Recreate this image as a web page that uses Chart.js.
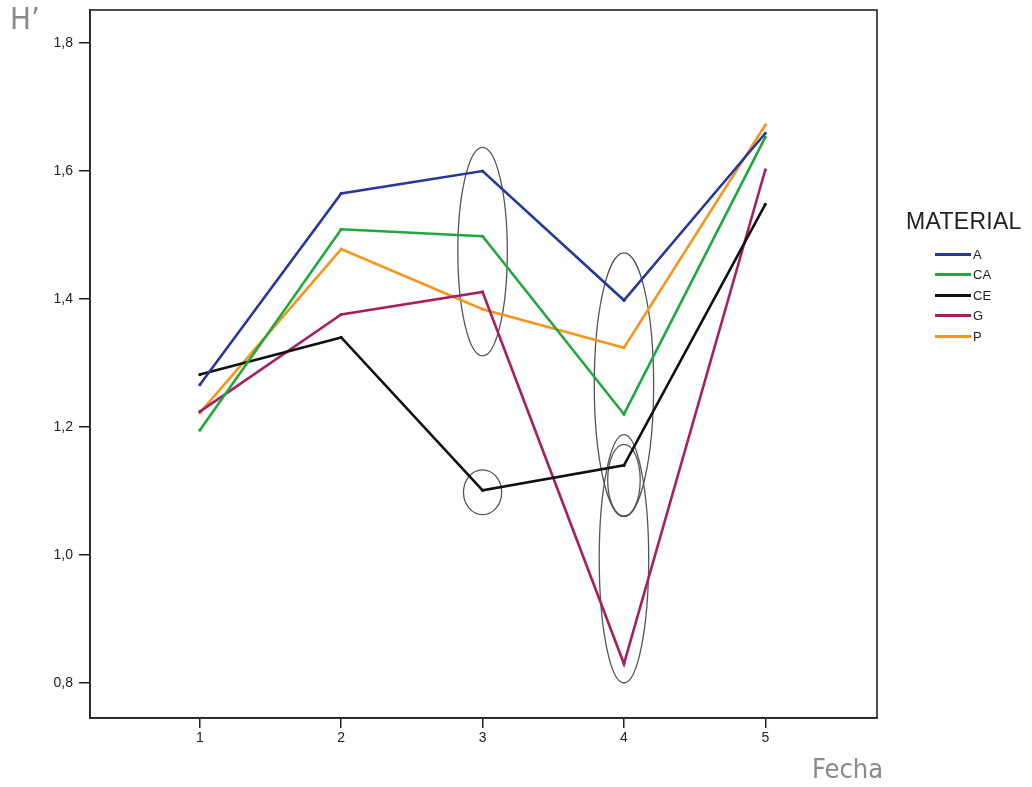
<!DOCTYPE html>
<html lang="es">
<head>
  <meta charset="UTF-8" />
  <title>H' por Fecha</title>
  <script src="https://cdn.jsdelivr.net/npm/chart.js"></script>
  <style>
    html, body { margin: 0; padding: 0; background: #fff; }
    body { width: 1032px; height: 787px; position: relative; overflow: hidden; font-family: 'Liberation Sans', Arial, sans-serif; }
    #wrap { position: absolute; left: 0; top: 0; width: 1032px; height: 787px; }
    .axisTitle { position: absolute; color: #8a8a8a; font-family: 'Liberation Sans Narrow', 'DejaVu Sans Condensed', sans-serif; }
    #legend { position: absolute; left: 906px; top: 208px; color: #222; }
    #legend .title { font-size: 23px; line-height: 27px; letter-spacing: 0.3px; margin-bottom: 9px; }
    #legend .row { display: flex; align-items: center; height: 20.5px; font-size: 13px; margin-left: 29px; }
    #legend .sw { width: 36px; height: 3px; margin-right: 2px; }
  </style>
</head>
<body>
  <div id="wrap"><canvas id="chart"></canvas></div>
  <div class="axisTitle" style="left:10px; top:0px; font-size:31px;">H’</div>
  <div class="axisTitle" style="left:812px; top:753px; font-size:27px;">Fecha</div>
  <div id="legend"><div class="title">MATERIAL</div></div>

  <script>
    // data
    const fechas = [1, 2, 3, 4, 5];
    const materiales = ['A', 'CA', 'CE', 'G', 'P'];
    const valA  = [1.266, 1.565, 1.600, 1.398, 1.659];
    const valCA = [1.195, 1.509, 1.498, 1.220, 1.653];
    const valCE = [1.282, 1.340, 1.101, 1.140, 1.548];
    const valG  = [1.224, 1.376, 1.411, 0.830, 1.602];
    const valP  = [1.222, 1.478, 1.384, 1.324, 1.672];
    const colores = ['#26389a', '#1fa83c', '#111111', '#a81f5f', '#f8951d'];
    const yTicks = [0.8, 1.0, 1.2, 1.4, 1.6, 1.8];

    // hand-drawn ellipses: [x center, y center, x half-width (x units), y half-height (y units)]
    const elipses = [
      [3, 1.474, 0.175, 0.163],
      [3, 1.098, 0.135, 0.035],
      [4, 1.266, 0.21, 0.206],
      [4, 1.117, 0.115, 0.056],
      [4, 0.994, 0.175, 0.194]
    ];

    const series = [valA, valCA, valCE, valG, valP];

    const legend = document.getElementById('legend');
    materiales.forEach((m, i) => {
      legend.innerHTML += `<div class="row"><span class="sw" style="background:${colores[i]}"></span>${m}</div>`;
    });

    const framePlugin = {
      id: 'frame',
      beforeDatasetsDraw(chart) {
        const { ctx, scales: { x, y } } = chart;
        ctx.save();
        ctx.strokeStyle = '#555';
        ctx.lineWidth = 1.3;
        elipses.forEach(([cx, cy, rx, ry]) => {
          const px = x.getPixelForValue(cx), py = y.getPixelForValue(cy);
          const prx = Math.abs(x.getPixelForValue(cx + rx) - px);
          const pry = Math.abs(y.getPixelForValue(cy + ry) - py);
          ctx.beginPath();
          ctx.ellipse(px, py, prx, pry, 0, 0, Math.PI * 2);
          ctx.stroke();
        });
        ctx.restore();
      },
      afterDraw(chart) {
        const { ctx, chartArea: a } = chart;
        ctx.save();
        ctx.strokeStyle = '#222';
        ctx.lineWidth = 1.6;
        ctx.strokeRect(a.left, a.top, a.right - a.left, a.bottom - a.top);
        ctx.restore();
      }
    };

    new Chart(document.getElementById('chart'), {
      type: 'line',
      data: {
        datasets: series.map((vals, i) => ({
          label: materiales[i],
          data: fechas.map((f, j) => ({ x: f, y: vals[j] })),
          borderColor: colores[i],
          backgroundColor: colores[i],
          borderWidth: 2.6,
          pointRadius: 1.6,
          pointBorderWidth: 0,
          tension: 0,
          fill: false
        }))
      },
      options: {
        responsive: true,
        maintainAspectRatio: false,
        animation: false,
        layout: { padding: { top: 10, right: 155, left: 0, bottom: 0 } },
        plugins: { legend: { display: false }, tooltip: { enabled: false } },
        scales: {
          x: {
            type: 'linear',
            min: 0.223,
            max: 5.79,
            afterBuildTicks: s => { s.ticks = fechas.map(v => ({ value: v })); },
            afterFit: s => { s.height = 69; s.paddingLeft = 0; s.paddingRight = 0; },
            grid: { drawOnChartArea: false, tickLength: 10, color: '#222', lineWidth: 1.5 },
            border: { color: '#222', width: 1.6 },
            ticks: { color: '#222', font: { family: 'Liberation Sans', size: 14 }, padding: 2, callback: v => String(v) }
          },
          y: {
            min: 0.7453,
            max: 1.8516,
            afterBuildTicks: s => { s.ticks = yTicks.map(v => ({ value: v })); },
            afterFit: s => { s.width = 90; s.paddingTop = 0; s.paddingBottom = 0; },
            grid: { drawOnChartArea: false, tickLength: 11, color: '#222', lineWidth: 1.5 },
            border: { color: '#222', width: 1.6 },
            ticks: { color: '#222', font: { family: 'Liberation Sans', size: 14 }, padding: 6, callback: v => v.toFixed(1).replace('.', ',') }
          }
        }
      },
      plugins: [framePlugin]
    });
  </script>
</body>
</html>
